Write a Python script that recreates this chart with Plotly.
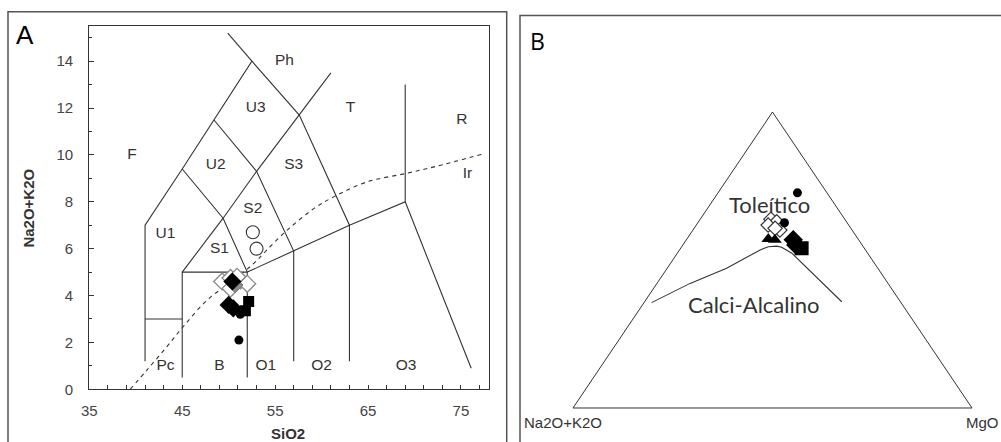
import plotly.graph_objects as go

# ---------------- Panel A : TAS diagram data ----------------
tas_circle_open_sio2 = [52.6, 53.0]
tas_circle_open_alk = [6.7, 6.0]
tas_diamond_open_sio2 = [49.3, 50.2, 51.3, 52.0, 50.2, 50.9]
tas_diamond_open_alk = [4.6, 4.75, 4.65, 4.5, 4.3, 4.8]
tas_diamond_gray_sio2 = [50.7]
tas_diamond_gray_alk = [4.45]
tas_diamond_black_sio2 = [50.4, 50.0, 50.5]
tas_diamond_black_alk = [4.6, 3.6, 3.45]
tas_square_sio2 = [52.15, 51.8]
tas_square_alk = [3.75, 3.35]
tas_circle_black_sio2 = [51.25, 51.1]
tas_circle_black_alk = [3.2, 2.1]

# field boundaries (SiO2, Na2O+K2O)
bnd_outer_x = [41, 41, 45, 48.4, 52.5, 57.6, 63, 63]
bnd_outer_y = [1.2, 7, 9.4, 11.5, 14, 11.7, 7, 1.2]
bnd_ph_x = [49.9, 52.5]
bnd_ph_y = [15.2, 14]
bnd_pc_x = [41, 45]
bnd_pc_y = [3, 3]
bnd_box_x = [45, 45, 52, 52]
bnd_box_y = [0.5, 5, 5, 0.5]
bnd_s_x = [45, 49.4, 53, 57.6, 61]
bnd_s_y = [5, 7.3, 9.3, 11.7, 13.5]
bnd_u2_x = [45, 49.4, 52]
bnd_u2_y = [9.4, 7.3, 5]
bnd_u3_x = [48.4, 53, 57, 57]
bnd_u3_y = [11.5, 9.3, 5.9, 1.2]
bnd_base_x = [52, 57, 63, 69, 69]
bnd_base_y = [5, 5.9, 7, 8, 13]
bnd_r_x = [69, 76.1]
bnd_r_y = [8, 0.9]

# Irvine & Baragar alkaline/subalkaline divide (dashed)
ir_sio2 = [39.4, 41.2, 43.35, 45.1, 47.7, 50.5, 52.7, 54.1, 56.3, 59.2, 61.3, 64.9, 69.1, 72.1, 77.3]
ir_alk = [0.0, 0.82, 1.82, 2.67, 3.81, 4.66, 5.37, 5.94, 6.79, 7.72, 8.21, 8.85, 9.21, 9.49, 10.03]

tas_field_names = ["Ph", "U3", "T", "R", "F", "U2", "S3", "Ir", "S2", "U1", "S1",
                   "Pc", "B", "O1", "O2", "O3"]
tas_field_sio2 = [56.0, 52.9, 63.1, 75.1, 39.6, 48.6, 57.0, 75.7, 52.6, 43.2, 49.0,
                  43.2, 49.0, 54.0, 60.0, 69.1]
tas_field_alk = [14.0, 12.0, 12.0, 11.5, 10.0, 9.55, 9.55, 9.2, 7.7, 6.6, 6.0,
                 1.0, 1.0, 1.0, 1.0, 1.0]

# ---------------- Panel B : AFM diagram data ----------------
# ternary components: A = FeOt, F = Na2O+K2O, M = MgO
afm_circle_A = [0.727, 0.626]
afm_circle_F = [0.074, 0.157]
afm_circle_M = [0.199, 0.217]
afm_diamond_open_A = [0.638, 0.629, 0.618, 0.601, 0.607]
afm_diamond_open_F = [0.185, 0.175, 0.202, 0.181, 0.190]
afm_diamond_open_M = [0.177, 0.196, 0.180, 0.218, 0.203]
afm_triangle_A = [0.571, 0.568]
afm_triangle_F = [0.225, 0.210]
afm_triangle_M = [0.204, 0.222]
afm_diamond_black_A = [0.568, 0.551]
afm_diamond_black_F = [0.164, 0.166]
afm_diamond_black_M = [0.268, 0.283]
afm_square_A = [0.540]
afm_square_F = [0.157]
afm_square_M = [0.303]

# calc-alkaline / tholeiitic divide
afm_line_A = [0.356, 0.421, 0.472, 0.534, 0.545, 0.547, 0.543, 0.523, 0.359]
afm_line_F = [0.625, 0.496, 0.379, 0.264, 0.238, 0.216, 0.2055, 0.190, 0.147]
afm_line_M = [0.019, 0.083, 0.149, 0.202, 0.217, 0.237, 0.2515, 0.287, 0.494]

# triangle vertices (FeOt, Na2O+K2O, MgO, back to FeOt)
tri_A = [1, 0, 0, 1]
tri_F = [0, 1, 0, 0]
tri_M = [0, 0, 1, 0]


def tern_xy(A, F, M):
    xs, ys = [], []
    for a, f, m in zip(A, F, M):
        s = a + f + m
        xs.append((m + a / 2.0) / s)
        ys.append(a / s)
    return xs, ys


W, H = 1001, 442
FONT = "Arial, Liberation Sans, sans-serif"
INK = "#333333"

fig = go.Figure()

# ---- Panel A traces ----
for bx, by in [(bnd_outer_x, bnd_outer_y), (bnd_ph_x, bnd_ph_y), (bnd_pc_x, bnd_pc_y),
               (bnd_box_x, bnd_box_y), (bnd_s_x, bnd_s_y), (bnd_u2_x, bnd_u2_y),
               (bnd_u3_x, bnd_u3_y), (bnd_base_x, bnd_base_y), (bnd_r_x, bnd_r_y)]:
    fig.add_trace(go.Scatter(x=bx, y=by, mode="lines", line=dict(color=INK, width=1.1),
                             xaxis="x", yaxis="y", hoverinfo="skip", showlegend=False))

fig.add_trace(go.Scatter(x=ir_sio2, y=ir_alk, mode="lines", line_shape="spline",
                         line=dict(color=INK, width=1.1, dash="4px,4px"),
                         xaxis="x", yaxis="y", showlegend=False))

fig.add_trace(go.Scatter(x=tas_field_sio2, y=tas_field_alk, mode="text", text=tas_field_names,
                         textfont=dict(family=FONT, size=15.5, color=INK),
                         xaxis="x", yaxis="y", showlegend=False))

fig.add_trace(go.Scatter(x=tas_circle_open_sio2, y=tas_circle_open_alk, mode="markers",
                         marker=dict(symbol="circle", size=13, color="white",
                                     line=dict(color=INK, width=1.1)),
                         xaxis="x", yaxis="y", showlegend=False))
fig.add_trace(go.Scatter(x=tas_diamond_open_sio2, y=tas_diamond_open_alk, mode="markers",
                         marker=dict(symbol="diamond", size=13, color="white",
                                     line=dict(color="#8a8a8a", width=1.3)),
                         xaxis="x", yaxis="y", showlegend=False))
fig.add_trace(go.Scatter(x=tas_diamond_gray_sio2, y=tas_diamond_gray_alk, mode="markers",
                         marker=dict(symbol="diamond", size=12, color="#8a8a8a",
                                     line=dict(color="#777777", width=1)),
                         xaxis="x", yaxis="y", showlegend=False))
fig.add_trace(go.Scatter(x=tas_diamond_black_sio2, y=tas_diamond_black_alk, mode="markers",
                         marker=dict(symbol="diamond", size=14, color="black"),
                         xaxis="x", yaxis="y", showlegend=False))
fig.add_trace(go.Scatter(x=tas_square_sio2, y=tas_square_alk, mode="markers",
                         marker=dict(symbol="square", size=11, color="black"),
                         xaxis="x", yaxis="y", showlegend=False))
fig.add_trace(go.Scatter(x=tas_circle_black_sio2, y=tas_circle_black_alk, mode="markers",
                         marker=dict(symbol="circle", size=9, color="black"),
                         xaxis="x", yaxis="y", showlegend=False))

# ---- Panel B traces ----
tx, ty = tern_xy(tri_A, tri_F, tri_M)
fig.add_trace(go.Scatter(x=tx, y=ty, mode="lines", line=dict(color=INK, width=1),
                         xaxis="x2", yaxis="y2", showlegend=False))
lx, ly = tern_xy(afm_line_A, afm_line_F, afm_line_M)
fig.add_trace(go.Scatter(x=lx, y=ly, mode="lines", line=dict(color=INK, width=1.1),
                         xaxis="x2", yaxis="y2", showlegend=False))

px_, py_ = tern_xy(afm_diamond_open_A, afm_diamond_open_F, afm_diamond_open_M)
fig.add_trace(go.Scatter(x=px_, y=py_, mode="markers",
                         marker=dict(symbol="diamond", size=11, color="white",
                                     line=dict(color=INK, width=1.2)),
                         xaxis="x2", yaxis="y2", showlegend=False))
px_, py_ = tern_xy(afm_circle_A, afm_circle_F, afm_circle_M)
fig.add_trace(go.Scatter(x=px_, y=py_, mode="markers",
                         marker=dict(symbol="circle", size=9, color="black"),
                         xaxis="x2", yaxis="y2", showlegend=False))
px_, py_ = tern_xy(afm_triangle_A, afm_triangle_F, afm_triangle_M)
fig.add_trace(go.Scatter(x=px_, y=py_, mode="markers",
                         marker=dict(symbol="triangle-up", size=12, color="black"),
                         xaxis="x2", yaxis="y2", showlegend=False))
px_, py_ = tern_xy(afm_diamond_black_A, afm_diamond_black_F, afm_diamond_black_M)
fig.add_trace(go.Scatter(x=px_, y=py_, mode="markers",
                         marker=dict(symbol="diamond", size=15, color="black"),
                         xaxis="x2", yaxis="y2", showlegend=False))
px_, py_ = tern_xy(afm_square_A, afm_square_F, afm_square_M)
fig.add_trace(go.Scatter(x=px_, y=py_, mode="markers",
                         marker=dict(symbol="square", size=14, color="black"),
                         xaxis="x2", yaxis="y2", showlegend=False))

annotations = [
    dict(text="A", x=25 / W, y=1 - 35 / H, xref="paper", yref="paper", showarrow=False,
         font=dict(family=FONT, size=26, color="black"), xanchor="center", yanchor="middle"),
    dict(text="B", x=537 / W, y=1 - 41 / H, xref="paper", yref="paper", showarrow=False,
         font=dict(family="Open Sans, sans-serif", size=23, color="black"),
         xanchor="center", yanchor="middle"),
    dict(text="<b>Na2O+K2O</b>", x=28.3 / W, y=1 - 208.3 / H, xref="paper", yref="paper",
         showarrow=False, textangle=-90, font=dict(family=FONT, size=15, color=INK),
         xanchor="center", yanchor="middle"),
    dict(text="<b>SiO2</b>", x=288.3 / W, y=1 - 433 / H, xref="paper", yref="paper",
         showarrow=False, font=dict(family=FONT, size=15, color=INK),
         xanchor="center", yanchor="middle"),
    dict(text="FeOt", x=0.502, y=1.06, xref="x2", yref="y2", showarrow=False,
         font=dict(family=FONT, size=15, color=INK), xanchor="center", yanchor="middle"),
    dict(text="Na2O+K2O", x=-0.024, y=-0.05, xref="x2", yref="y2", showarrow=False,
         font=dict(family=FONT, size=15, color=INK), xanchor="center", yanchor="middle"),
    dict(text="MgO", x=1.026, y=-0.05, xref="x2", yref="y2", showarrow=False,
         font=dict(family=FONT, size=15, color=INK), xanchor="center", yanchor="middle"),
    dict(text="Toleítico", x=0.492, y=0.686, xref="x2", yref="y2", showarrow=False,
         font=dict(family="Lato, sans-serif", size=22, color=INK), xanchor="center", yanchor="middle"),
    dict(text="Calci-Alcalino", x=0.452, y=0.351, xref="x2", yref="y2", showarrow=False,
         font=dict(family="Lato, sans-serif", size=22, color=INK), xanchor="center", yanchor="middle"),
]

shapes = [
    dict(type="rect", xref="paper", yref="paper", x0=8 / W, x1=506.7 / W,
         y0=-0.1, y1=1 - 11.7 / H, line=dict(color="#555555", width=1.5)),
    dict(type="rect", xref="paper", yref="paper", x0=520 / W, x1=1.05,
         y0=-0.1, y1=1 - 15.5 / H, line=dict(color="#555555", width=1.5)),
]

fig.update_layout(
    width=W, height=H, margin=dict(l=0, r=0, t=0, b=0, autoexpand=False),
    paper_bgcolor="white", plot_bgcolor="white", showlegend=False,
    annotations=annotations, shapes=shapes,
    xaxis=dict(domain=[89.3 / W, 489.3 / W], range=[35, 78.05], anchor="y",
               showgrid=False, zeroline=False, showline=True, mirror=True,
               linecolor=INK, linewidth=1.2, ticks="inside", ticklen=4, tickcolor=INK,
               tickvals=[35, 45, 55, 65, 75], ticklabelstandoff=8,
               tickfont=dict(family=FONT, size=15, color="#444444"),
               minor=dict(ticks="inside", ticklen=4, dtick=2, tick0=35, tickcolor=INK,
                          showgrid=False)),
    yaxis=dict(domain=[1 - 389.3 / H, 1 - 26 / H], range=[0, 15.5], anchor="x",
               showgrid=False, zeroline=False, showline=True, mirror=True,
               linecolor=INK, linewidth=1.2, ticks="inside", ticklen=5, tickcolor=INK,
               tickvals=[0, 2, 4, 6, 8, 10, 12, 14], ticklabelstandoff=12,
               tickfont=dict(family=FONT, size=15, color="#444444"),
               minor=dict(ticks="inside", ticklen=3, dtick=1, tick0=0, tickcolor=INK,
                          showgrid=False)),
    xaxis2=dict(domain=[553.05 / W, 991.95 / W], range=[-0.05, 1.05], anchor="y2",
                visible=False),
    yaxis2=dict(domain=[1 - 422.8 / H, 1 - 97.2 / H], range=[-0.05, 1.05], anchor="x2",
                visible=False),
)

fig.write_html(
    "out.html",
    config={"responsive": False, "displayModeBar": False},
    post_script="document.body.style.margin='0';document.body.style.overflow='hidden';",
)
